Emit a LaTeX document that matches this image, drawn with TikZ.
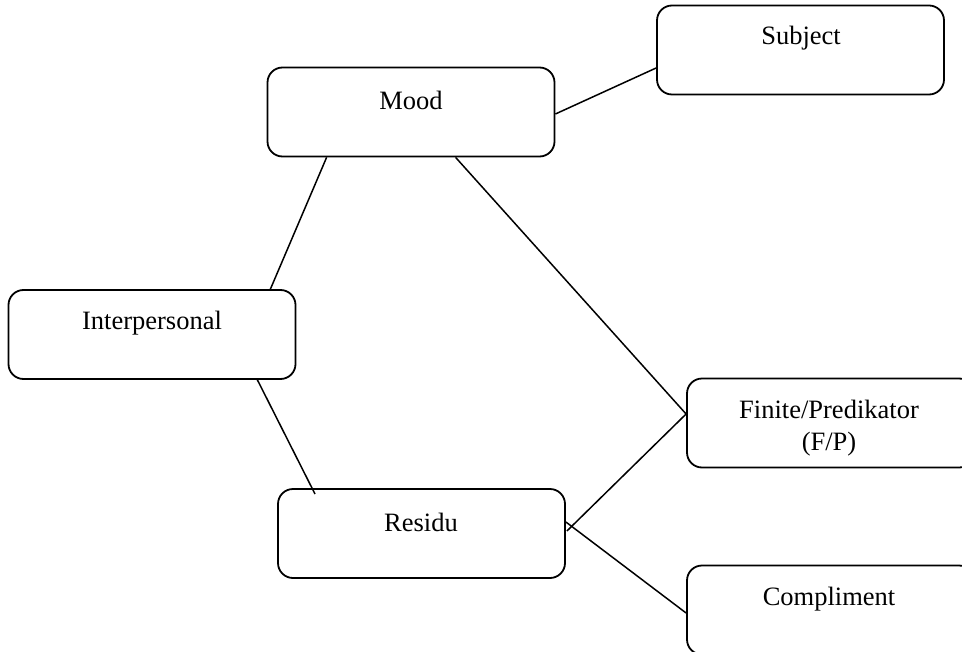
\documentclass[tikz,border=0pt]{standalone}
\usepackage{fontspec}
\setmainfont{Liberation Serif}
\usetikzlibrary{calc}
\begin{document}
\begin{tikzpicture}[x=0.5pt,y=-0.5pt,
  boxst/.style={draw,line width=0.9pt,rounded corners=7.5pt,minimum width=143.5pt,minimum height=44.5pt,inner sep=0pt},
  txt/.style={font=\fontsize{13.25}{16}\selectfont,inner sep=0pt,align=center},
  conn/.style={line width=0.75pt}]
\useasboundingbox (0,0) rectangle (962,652);
\node[boxst] (mood) at (411,112) {};
\node[boxst] (subj) at (800.5,50) {};
\node[boxst] (inter) at (152,334.5) {};
\node[boxst] (fin) at (830.5,423) {};
\node[boxst] (res) at (421.5,533.5) {};
\node[boxst] (comp) at (830.5,610) {};
\node[txt] (moodt) at (411,100) {Mood};
\node[txt] (subjt) at (801,38) {Subject};
\node[txt] (intert) at (152,323) {Interpersonal};
\node[txt] (fint) at (829,428) {Finite/Predikator\\(F/P)};
\node[txt] (rest) at (421,522) {Residu};
\node[txt] (compt) at (829,599) {Compliment};
\coordinate (resin) at (315,494);
\coordinate (m1) at ($(mood.south west)+(60,0)$);
\coordinate (m3) at ($(mood.south west)+(189,0)$);
\coordinate (m2) at ($(mood.east)+(0,2)$);
\coordinate (s2) at ($(subj.west)+(0,18)$);
\coordinate (i1) at ($(inter.north east)+(-26,0)$);
\coordinate (i2) at ($(inter.south east)+(-39,0)$);
\coordinate (r1) at ($(res.east)+(1,-2.5)$);
\coordinate (r2) at ($(res.east)+(0,-11.5)$);
\coordinate (f1) at ($(fin.west)+(0,-9)$);
\coordinate (c1) at ($(comp.west)+(0,3)$);
\draw[conn] (m1) -- (i1);
\draw[conn] (m3) -- (f1);
\draw[conn] (m2) -- (s2);
\draw[conn] (i2) -- (resin);
\draw[conn] (r1) -- (f1);
\draw[conn] (r2) -- (c1);
\end{tikzpicture}
\end{document}
